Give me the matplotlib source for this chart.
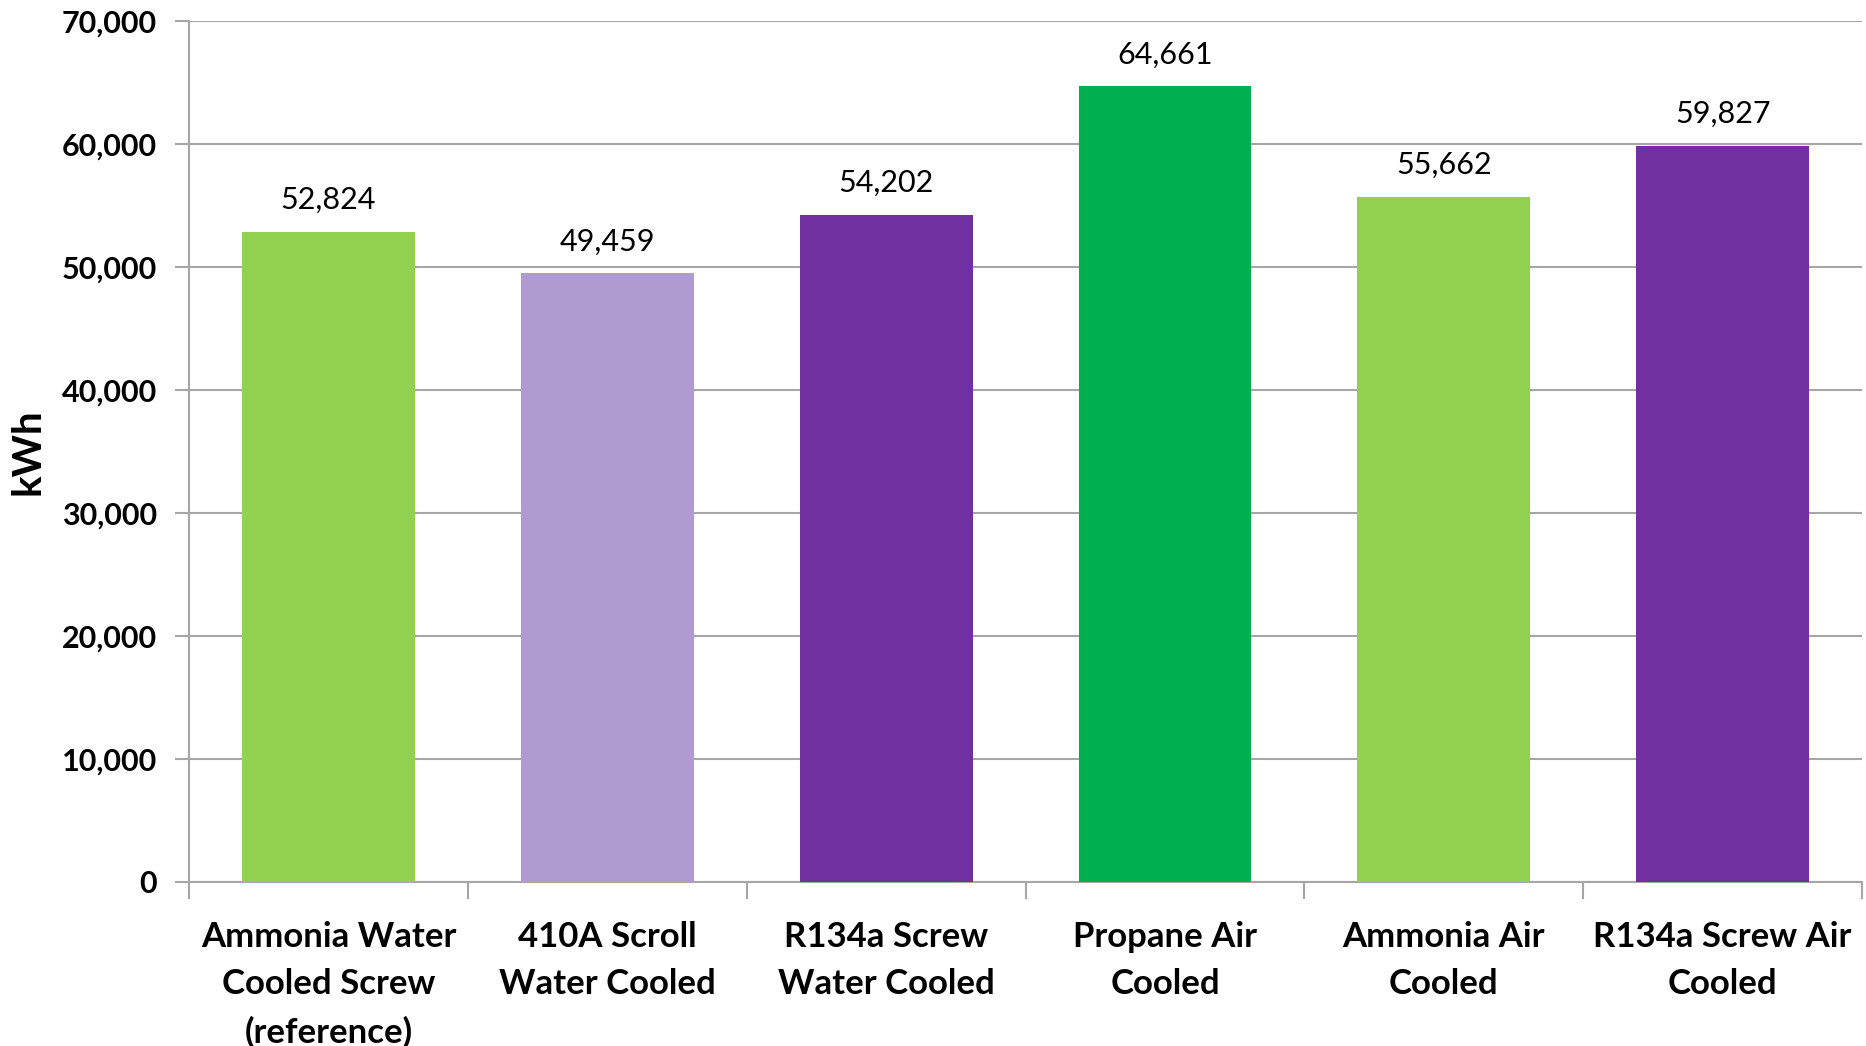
import matplotlib.pyplot as plt
import numpy as np
from matplotlib.ticker import FuncFormatter, FixedLocator

categories = [
    "Ammonia Water\nCooled Screw\n(reference)",
    "410A Scroll\nWater Cooled",
    "R134a Screw\nWater Cooled",
    "Propane Air\nCooled",
    "Ammonia Air\nCooled",
    "R134a Screw Air\nCooled",
]
values = [52824, 49459, 54202, 64661, 55662, 59827]
colors = ["#92D050", "#B09AD2", "#7030A0", "#00B050", "#92D050", "#7030A0"]
y_ticks = [0, 10000, 20000, 30000, 40000, 50000, 60000, 70000]

plt.rcParams["font.family"] = ["Lato", "DejaVu Sans"]
grid_col = "#A6A6A6"

fig = plt.figure(figsize=(18.66, 10.46), dpi=100)
ax = fig.add_axes([0.1013, 0.1568, 0.8966, 0.8234])

x = np.arange(len(categories))
ax.bar(x, values, width=0.62, color=colors, zorder=3)

for xi, v in zip(x, values):
    ax.annotate(f"{v:,}", (xi, v), xytext=(0, 13), textcoords="offset points",
                ha="center", va="bottom", fontsize=22, color="black")

ax.set_xlim(-0.5, len(categories) - 0.5)
ax.set_ylim(0, 70000)
ax.yaxis.set_major_locator(FixedLocator(y_ticks))
ax.yaxis.set_major_formatter(FuncFormatter(lambda v, p: f"{int(v):,}"))
ax.grid(axis="y", color=grid_col, linewidth=1.5, zorder=0)

ax.set_xticks(x)
ax.set_xticklabels(categories, fontsize=25, fontweight="bold", linespacing=1.6)
ax.set_xticks(np.arange(-0.5, len(categories)), minor=True)
ax.tick_params(axis="x", which="major", length=0, pad=28)
ax.tick_params(axis="x", which="minor", length=12, width=1.5, color=grid_col, direction="out")
ax.tick_params(axis="y", length=10, width=1.5, color=grid_col, labelsize=22, pad=13)
for lbl in ax.get_yticklabels():
    lbl.set_fontweight("bold")

ax.set_ylabel("kWh", fontsize=29, fontweight="bold", va="center")
ax.yaxis.set_label_coords(-0.096, 0.5)

for s in ["top", "right"]:
    ax.spines[s].set_visible(False)
for s in ["left", "bottom"]:
    ax.spines[s].set_color(grid_col)
    ax.spines[s].set_linewidth(1.5)

fig.savefig("out.png", dpi=100, facecolor="white")
